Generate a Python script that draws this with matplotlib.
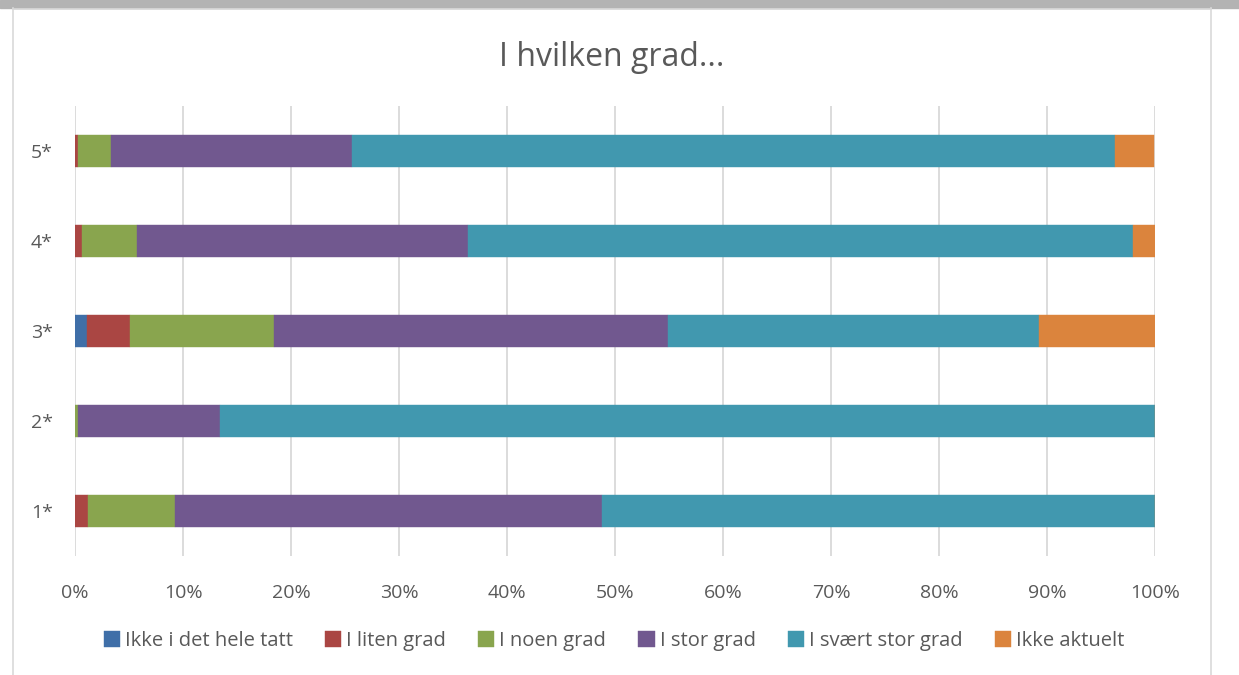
import numpy as np
import matplotlib.pyplot as plt
from matplotlib.patches import Rectangle
from matplotlib.lines import Line2D
from matplotlib.ticker import FuncFormatter

plt.rcParams['font.family'] = ['Open Sans', 'DejaVu Sans']

categories = ['1*', '2*', '3*', '4*', '5*']
series = ['Ikke i det hele tatt', 'I liten grad', 'I noen grad',
          'I stor grad', 'I svært stor grad', 'Ikke aktuelt']
colors = ['#3F6FA8', '#AA4643', '#89A54E', '#71588F', '#4198AF', '#DB843D']

ikke_i_det_hele_tatt = [0.0, 0.0, 1.1, 0.0, 0.0]
i_liten_grad = [1.2, 0.0, 4.0, 0.65, 0.25]
i_noen_grad = [8.1, 0.25, 13.3, 5.05, 3.1]
i_stor_grad = [39.5, 13.15, 36.5, 30.7, 22.3]
i_svaert_stor_grad = [51.2, 86.6, 34.4, 61.6, 70.6]
ikke_aktuelt = [0.0, 0.0, 10.7, 2.0, 3.7]

values = [ikke_i_det_hele_tatt, i_liten_grad, i_noen_grad,
          i_stor_grad, i_svaert_stor_grad, ikke_aktuelt]

fig = plt.figure(figsize=(12.39, 6.75), dpi=100)
ax = fig.add_axes([75 / 1239, 1 - 556 / 675, 1080 / 1239, 450 / 675])

y = np.arange(len(categories))
left = np.zeros(len(categories))
for name, vals, c in zip(series, values, colors):
    vals = np.array(vals)
    ax.barh(y, vals, left=left, height=0.35, color=c, label=name,
            edgecolor=c, linewidth=0.3)
    left += vals

ax.set_xlim(0, 100)
ax.set_ylim(-0.5, 4.5)
ax.set_xticks(np.arange(0, 101, 10))
ax.xaxis.set_major_formatter(FuncFormatter(lambda v, p: f'{int(v)}%'))
ax.set_yticks(y)
ax.set_yticklabels(categories)
ax.grid(axis='x', color='#d9d9d9', linewidth=1.3)
ax.set_axisbelow(True)
for s in ax.spines.values():
    s.set_visible(False)
ax.tick_params(axis='both', length=0, labelsize=14, colors='#595959')
ax.tick_params(axis='x', pad=20)
ax.tick_params(axis='y', pad=16)

fig.text(612 / 1239, 1 - 57 / 675, 'I hvilken grad...', ha='center', va='center',
         fontsize=23, color='#595959')

leg = fig.legend(loc='center', bbox_to_anchor=(614 / 1239, 1 - 641 / 675), ncol=6,
                 frameon=False, fontsize=14.5, handlelength=0.8, handleheight=0.8,
                 handletextpad=0.25, columnspacing=1.6, labelcolor='#595959')

# top grey band and chart frame
fig.patches.append(Rectangle((0, 1 - 8 / 675), 1, 8 / 675, transform=fig.transFigure,
                             color='#b3b3b3', zorder=0))
fig.add_artist(Line2D([13 / 1239, 13 / 1239], [0, 1 - 8 / 675], color='#d9d9d9', lw=1.2))
fig.add_artist(Line2D([1211 / 1239, 1211 / 1239], [0, 1 - 8 / 675], color='#d9d9d9', lw=1.2))
fig.add_artist(Line2D([13 / 1239, 1211 / 1239], [1 - 9 / 675, 1 - 9 / 675], color='#d9d9d9', lw=1.2))

fig.savefig('out.png', dpi=100)
